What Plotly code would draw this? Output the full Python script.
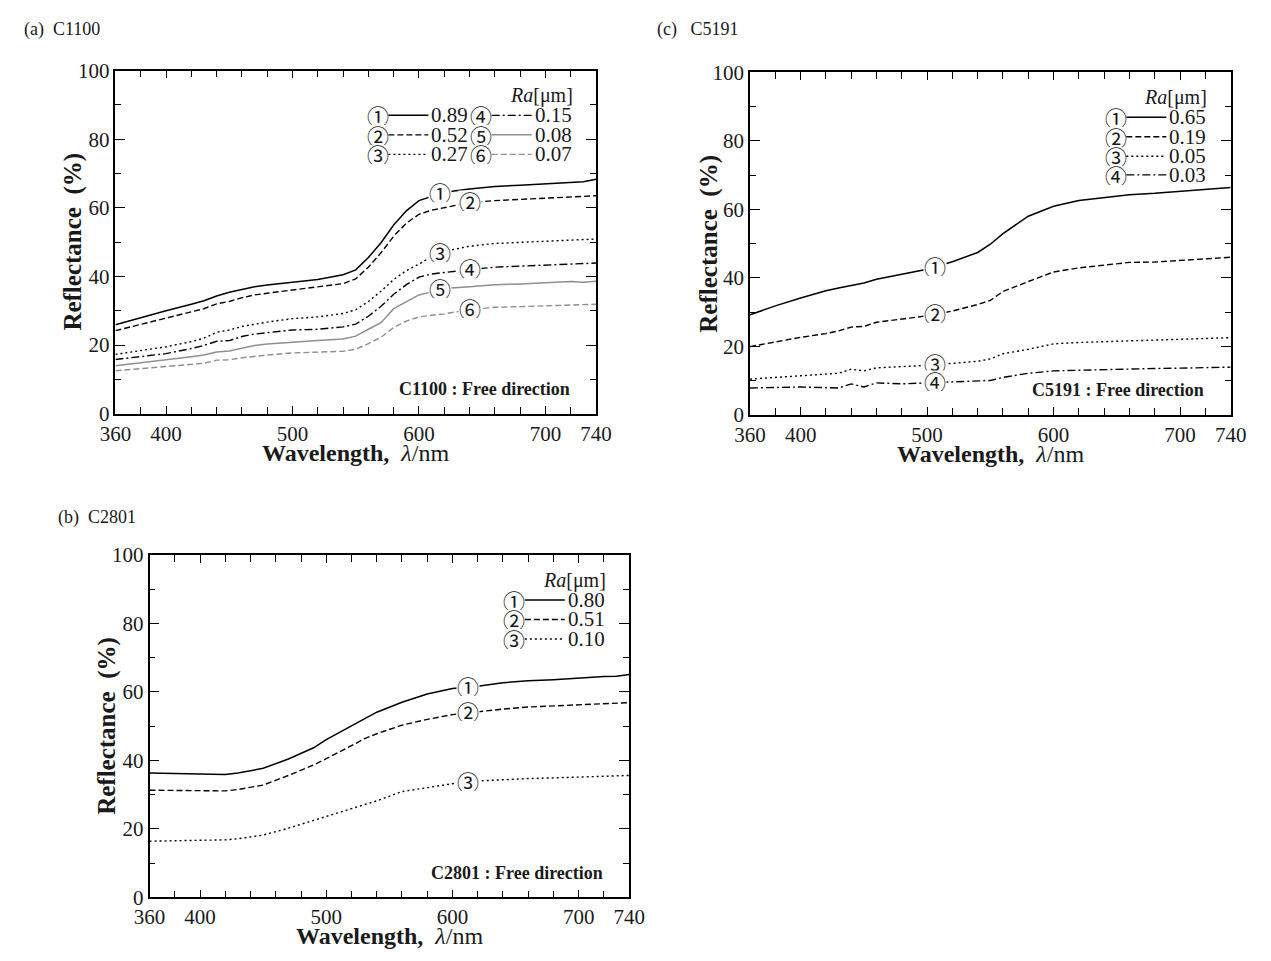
import plotly.graph_objects as go
import numpy as np

W, H = 1271, 961

# ---------------- data ----------------
# (a) C1100
wl_a = [360, 380, 400, 420, 430, 440, 450, 460, 470, 480, 500, 520, 540, 550, 560, 570,
        580, 590, 600, 610, 620, 640, 660, 680, 700, 720, 730, 740]
a_089 = [25.9, 28.0, 30.0, 31.9, 32.9, 34.3, 35.4, 36.2, 37.0, 37.5, 38.4, 39.1, 40.5, 41.9, 45.5, 49.8,
         55.0, 59.1, 62.1, 63.3, 64.5, 65.5, 66.2, 66.6, 67.0, 67.5, 67.6, 68.3]
a_052 = [24.2, 26.0, 27.8, 29.7, 30.6, 32.0, 32.7, 33.8, 34.6, 35.1, 36.0, 36.8, 37.9, 39.3, 42.7, 46.9,
         51.7, 55.5, 58.1, 59.3, 60.0, 61.5, 62.1, 62.4, 62.8, 63.2, 63.3, 63.5]
a_027 = [17.3, 18.4, 19.5, 21.0, 22.0, 23.7, 24.4, 25.4, 26.1, 26.7, 27.7, 28.2, 29.2, 30.3, 32.7, 35.7,
         39.1, 41.7, 43.6, 45.8, 47.3, 48.8, 49.6, 49.9, 50.2, 50.6, 50.8, 50.9]
a_015 = [15.8, 16.6, 17.5, 19.0, 19.9, 21.1, 21.3, 22.5, 23.2, 23.6, 24.4, 24.6, 25.3, 26.1, 28.4, 31.3,
         34.8, 37.6, 39.8, 40.7, 41.2, 42.0, 42.7, 43.0, 43.3, 43.6, 43.7, 43.9]
a_008 = [14.0, 14.8, 15.6, 16.6, 17.1, 18.0, 18.3, 19.2, 19.9, 20.3, 20.9, 21.3, 21.8, 22.6, 24.6, 26.5,
         30.6, 32.7, 34.6, 35.5, 36.5, 37.0, 37.6, 37.8, 38.2, 38.5, 38.3, 38.6]
a_007 = [12.5, 13.1, 13.7, 14.3, 14.7, 15.6, 15.7, 16.3, 16.8, 17.1, 17.7, 17.9, 18.2, 18.8, 20.4, 22.3,
         25.1, 27.0, 28.2, 28.7, 29.1, 30.3, 31.0, 31.2, 31.5, 31.7, 31.8, 31.9]

# (c) C5191
wl_c = [360, 380, 400, 420, 430, 440, 450, 460, 480, 500, 520, 540, 550, 560, 580, 600,
        620, 640, 660, 680, 700, 720, 740]
c_065 = [29.2, 31.8, 34.1, 36.2, 37.0, 37.7, 38.5, 39.6, 41.0, 42.5, 44.7, 47.4, 49.8, 52.9, 58.0, 60.9,
         62.6, 63.5, 64.3, 64.7, 65.2, 65.9, 66.4]
c_019 = [19.9, 21.3, 22.6, 23.7, 24.5, 25.6, 25.8, 27.0, 28.0, 28.9, 30.3, 32.2, 33.4, 36.0, 38.9, 41.7,
         42.9, 43.6, 44.5, 44.6, 45.0, 45.5, 46.0]
c_005 = [10.4, 10.9, 11.4, 11.8, 12.1, 13.3, 12.8, 13.7, 14.0, 14.4, 15.0, 15.6, 16.3, 17.8, 19.1, 20.7,
         21.1, 21.3, 21.6, 21.8, 22.1, 22.3, 22.5]
c_003 = [7.8, 7.9, 8.1, 7.9, 7.8, 9.0, 8.1, 9.3, 9.0, 9.3, 9.5, 9.7, 10.0, 10.9, 12.1, 12.8,
         13.0, 13.3, 13.5, 13.5, 13.6, 13.7, 13.9]

# (b) C2801
wl_b = [360, 380, 400, 420, 430, 450, 470, 490, 500, 510, 520, 530, 540, 560, 580, 600,
        620, 640, 660, 680, 700, 720, 730, 740]
b_080 = [36.3, 36.2, 36.1, 35.9, 36.3, 37.7, 40.4, 43.7, 46.1, 48.1, 50.3, 52.1, 54.1, 57.0, 59.4, 61.0,
         61.7, 62.7, 63.3, 63.6, 64.1, 64.5, 64.6, 65.1]
b_051 = [31.3, 31.3, 31.1, 31.1, 31.5, 32.8, 35.6, 38.7, 40.5, 42.3, 44.3, 46.3, 47.8, 50.3, 52.0, 53.4,
         54.3, 55.0, 55.6, 55.9, 56.2, 56.5, 56.7, 56.9]
b_010 = [16.4, 16.5, 16.6, 16.8, 17.1, 18.2, 20.2, 22.5, 23.6, 24.9, 26.1, 27.2, 28.2, 30.9, 32.0, 33.2,
         34.0, 34.4, 34.7, 34.9, 35.1, 35.3, 35.4, 35.6]

x_ticks = [360, 400, 500, 600, 700, 740]
y_ticks = [0, 20, 40, 60, 80, 100]
circled = ["①", "②", "③", "④", "⑤", "⑥"]

# ---------------- styles ----------------
GRAY = "#8f8f8f"
ST = {
    "solid": dict(color="black", width=1.5, dash="solid"),
    "dash": dict(color="black", width=1.4, dash="6px,3px"),
    "dot": dict(color="black", width=1.4, dash="2px,3px"),
    "dashdot": dict(color="black", width=1.4, dash="8px,3px,2px,3px"),
    "gsolid": dict(color=GRAY, width=1.5, dash="solid"),
    "gdash": dict(color=GRAY, width=1.4, dash="6px,3px"),
}

SERIF = "Liberation Serif"
CJK = "Noto Sans CJK JP"
TXT = "#1a1a1a"

# panel geometry in window pixels (plot area)
panels = [
    dict(key="a", ax="", x0=102, x1=595, y0=60, y1=412, title="(a)  C1100", tx=6, ty=18,
         note="C1100 : Free direction", wl=wl_a,
         series=[(a_089, "solid", "0.89", 617), (a_052, "dash", "0.52", 640),
                 (a_027, "dot", "0.27", 617), (a_015, "dashdot", "0.15", 640),
                 (a_008, "gsolid", "0.08", 617), (a_007, "gdash", "0.07", 640)],
         cols=2),
    dict(key="c", ax="2", x0=753, x1=1246, y0=62, y1=413, title="(c)   C5191", tx=655, ty=18,
         note="C5191 : Free direction", wl=wl_c,
         series=[(c_065, "solid", "0.65", 506), (c_019, "dash", "0.19", 506),
                 (c_005, "dot", "0.05", 506), (c_003, "dashdot", "0.03", 506)],
         cols=1),
    dict(key="b", ax="3", x0=137, x1=629, y0=557, y1=908, title="(b)  C2801", tx=41, ty=518,
         note="C2801 : Free direction", wl=wl_b,
         series=[(b_080, "solid", "0.80", 612), (b_051, "dash", "0.51", 612),
                 (b_010, "dot", "0.10", 612)],
         cols=1),
]


def px(x):
    return x / W


def py(y):
    return 1 - y / H


fig = go.Figure()
annotations = []
shapes = []

layout_axes = {}
for p in panels:
    xa = "x" + p["ax"]
    ya = "y" + p["ax"]
    for vals, st, lab, lx in p["series"]:
        fig.add_trace(go.Scatter(x=p["wl"], y=vals, mode="lines", line=ST[st],
                                 xaxis=xa, yaxis=ya, hoverinfo="skip", showlegend=False))
    # on-curve labels
    for i, (vals, st, lab, lx) in enumerate(p["series"]):
        yv = float(np.interp(lx, p["wl"], vals))
        annotations.append(dict(x=lx, y=yv + 0.4, xref=xa, yref=ya, text=circled[i], showarrow=False,
                                font=dict(family=CJK, size=22, color=TXT), bgcolor="white",
                                borderpad=0, width=22, height=20, valign="middle",
                                xanchor="center", yanchor="middle"))
    xkey = "xaxis" + p["ax"]
    ykey = "yaxis" + p["ax"]
    common = dict(showline=True, linecolor="black", linewidth=1.5, mirror="allticks",
                  ticks="inside", tickcolor="black", tickwidth=1.3, showgrid=False, zeroline=False,
                  tickfont=dict(family=SERIF, size=21, color=TXT))
    layout_axes[xkey] = dict(common, domain=[px(p["x0"]), px(p["x1"])], range=[360, 740],
                             anchor=ya, tickvals=x_ticks, ticklen=8,
                             minor=dict(tickvals=list(range(380, 740, 20)), ticklen=7,
                                        ticks="inside", tickcolor="black", tickwidth=1.3))
    layout_axes[ykey] = dict(common, domain=[py(p["y1"]), py(p["y0"])], range=[0, 100],
                             anchor=xa, tickvals=y_ticks, ticklen=10,
                             minor=dict(tickvals=list(range(10, 100, 20)), ticklen=6,
                                        ticks="inside", tickcolor="black", tickwidth=1.3))

    # panel title
    annotations.append(dict(x=px(p["tx"]), y=py(p["ty"]), xref="paper", yref="paper",
                            text=p["title"], showarrow=False, xanchor="left", yanchor="middle",
                            font=dict(family=SERIF, size=18, color=TXT)))
    # axis titles
    annotations.append(dict(x=px((p["x0"] + p["x1"]) / 2), y=py(p["y1"] + 40), xref="paper", yref="paper",
                            text="<b>Wavelength,</b>  <i>λ</i>/nm", showarrow=False,
                            xanchor="center", yanchor="middle",
                            font=dict(family=SERIF, size=24, color=TXT)))
    annotations.append(dict(x=px(p["x0"] - 43), y=py((p["y0"] + p["y1"]) / 2), xref="paper", yref="paper",
                            text="<b>Reflectance  (%)</b>", showarrow=False, textangle=-90,
                            xanchor="center", yanchor="middle",
                            font=dict(family=SERIF, size=25, color=TXT)))
    # note
    annotations.append(dict(x=px(p["x1"] - 25), y=py(p["y1"] - 25), xref="paper", yref="paper",
                            text="<b>" + p["note"] + "</b>", showarrow=False,
                            xanchor="right", yanchor="middle",
                            font=dict(family=SERIF, size=18, color=TXT)))
    # legend
    R = p["x1"]
    annotations.append(dict(x=px(R - 22), y=py(p["y0"] + 26), xref="paper", yref="paper",
                            text="<i>Ra</i>[μm]", showarrow=False, xanchor="right", yanchor="middle",
                            font=dict(family=SERIF, size=20, color=TXT)))
    n = len(p["series"])
    rows = 3 if p["cols"] == 2 else n
    row_y = [46, 66, 86, 105]
    for i, (vals, st, lab, lx) in enumerate(p["series"]):
        col = i // rows if p["cols"] == 2 else 0
        r = i % rows
        off = -106 * (p["cols"] - 1 - col)
        yy = p["y0"] + row_y[r]
        annotations.append(dict(x=px(R - 118 + off), y=py(yy), xref="paper", yref="paper",
                                text=circled[i], showarrow=False, xanchor="center", yanchor="middle",
                                borderpad=0, width=22, height=20, valign="middle",
                                font=dict(family=CJK, size=22, color=TXT)))
        shapes.append(dict(type="line", xref="paper", yref="paper",
                           x0=px(R - 107 + off), x1=px(R - 66 + off), y0=py(yy), y1=py(yy),
                           line=ST[st]))
        annotations.append(dict(x=px(R - 64 + off), y=py(yy), xref="paper", yref="paper",
                                text=lab, showarrow=False, xanchor="left", yanchor="middle",
                                borderpad=0, height=20, valign="middle",
                                font=dict(family=SERIF, size=21, color=TXT)))

fig.update_layout(width=W, height=H, margin=dict(l=0, r=0, t=0, b=0),
                  paper_bgcolor="white", plot_bgcolor="white", showlegend=False,
                  annotations=annotations, shapes=shapes, **layout_axes)

fig.write_html("out.html")
